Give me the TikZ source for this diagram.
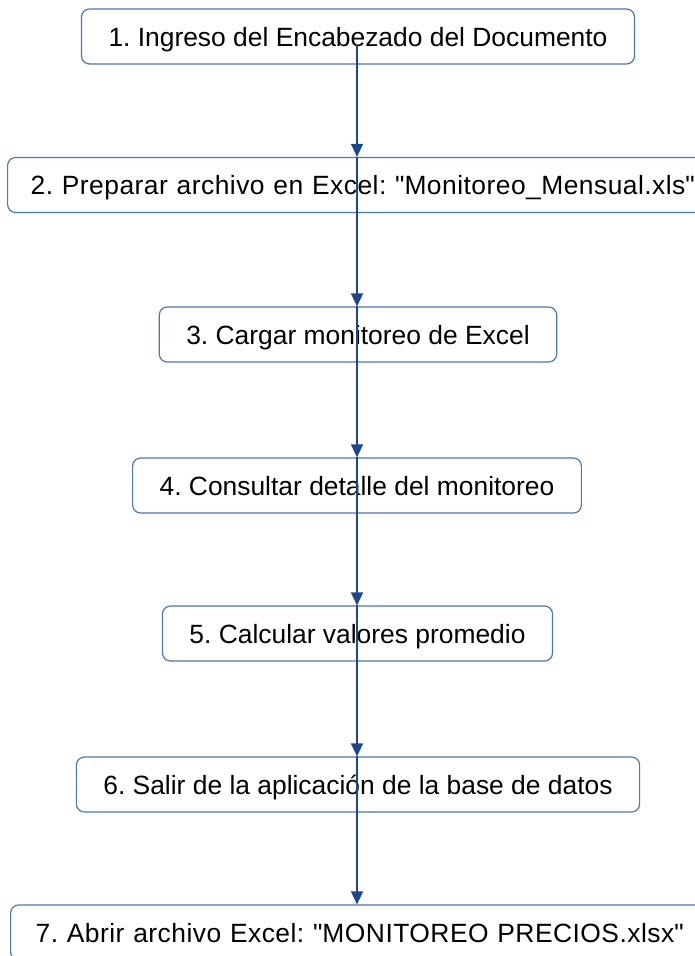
\documentclass[tikz,border=0pt]{standalone}
\usepackage{fontspec}
\setmainfont{Liberation Sans}
\usetikzlibrary{shapes, arrows, arrows.meta}
\frenchspacing

\definecolor{boxline}{RGB}{74,120,176}
\definecolor{flowline}{RGB}{26,72,138}

\tikzset{
    paso/.style={draw=boxline, line width=1.2pt, rounded corners=8pt, minimum height=55pt,
        inner xsep=27pt, text height=19pt, text depth=0pt, font=\fontsize{26.4}{30}\selectfont},
    ancho/.style={anchor=west, align=left, text width=700pt, inner xsep=#1,
        font=\fontsize{26.4}{30}\selectfont\addfontfeature{LetterSpace=1.8}},
    flecha/.style={draw=flowline, line width=1.3pt, -{Triangle[width=12pt,length=13pt]}}
}

\begin{document}
\begin{tikzpicture}[x=1pt, y=-1pt]
            \useasboundingbox (0, 0) rectangle (694, 956);
            \node[paso] (n1) at (358, 36.5) {1. Ingreso del Encabezado del Documento};
            \node[paso, ancho=23pt] (n2) at (7, 185) {2. Preparar archivo en Excel: \textquotedbl Monitoreo\_Mensual.xls\textquotedbl};
            \node[paso] (n3) at (358, 334.5) {3. Cargar monitoreo de Excel};
            \node[paso] (n4) at (357, 485.5) {4. Consultar detalle del monitoreo};
            \node[paso] (n5) at (357.5, 633.5) {5. Calcular valores promedio};
            \node[paso] (n6) at (358, 784.5) {6. Salir de la aplicación de la base de datos};
            \node[paso, ancho=25pt] (n7) at (10, 932.5) {7. Abrir archivo Excel: \textquotedbl MONITOREO PRECIOS.xlsx\textquotedbl};
            \coordinate (s) at (357, 45);
            
            \draw[flecha] (s) -- (s |- n2.north);
            \draw[flecha] (s |- n2.north) -- (s |- n3.north);
            \draw[flecha] (s |- n3.north) -- (s |- n4.north);
            \draw[flecha] (s |- n4.north) -- (s |- n5.north);
            \draw[flecha] (s |- n5.north) -- (s |- n6.north);
            \draw[flecha] (s |- n6.north) -- (s |- n7.north);
    	\end{tikzpicture}
\end{document}
